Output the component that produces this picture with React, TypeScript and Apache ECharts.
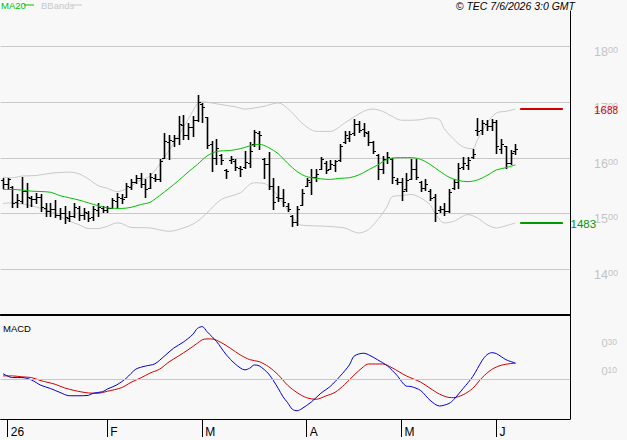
import React, { useEffect, useRef } from "react";
import * as echarts from "echarts";

// ---- calendar ----
const firstDay = "2025-12-31";
const lastDay = "2026-06-05";
const holidays = ["2026-01-01", "2026-04-03", "2026-04-06", "2026-05-01"];
const monthTickLabels = ["26", "F", "M", "A", "M", "J"];
const emptySlots = 11;

// ---- daily OHLC ----
const opens = [
  1560, 1552, 1548, 1520, 1522, 1540, 1528, 1526, 1530, 1510,
  1505, 1508, 1497, 1500, 1492, 1496, 1510, 1498, 1500, 1494,
  1506, 1510, 1506, 1510, 1522, 1528, 1530, 1548, 1556, 1564,
  1552, 1546, 1564, 1562, 1600, 1628, 1630, 1636, 1658, 1640,
  1655, 1668, 1696, 1672, 1624, 1600, 1604, 1578, 1596, 1594,
  1582, 1584, 1590, 1625, 1644, 1598, 1588, 1550, 1530, 1528,
  1514, 1496, 1484, 1516, 1550, 1556, 1566, 1580, 1590, 1580,
  1586, 1596, 1628, 1636, 1644, 1660, 1652, 1644, 1628, 1604,
  1580, 1598, 1598, 1560, 1556, 1544, 1562, 1580, 1556, 1546,
  1540, 1530, 1506, 1508, 1504, 1546, 1556, 1584, 1586, 1602,
  1650, 1650, 1660, 1656, 1664, 1616, 1620, 1590, 1612,
];
const highs = [
  1563, 1563, 1549, 1534, 1566, 1554, 1532, 1536, 1534, 1518,
  1518, 1525, 1510, 1513, 1504, 1519, 1514, 1510, 1504, 1513,
  1519, 1514, 1514, 1528, 1537, 1534, 1554, 1562, 1569, 1572,
  1561, 1572, 1571, 1597, 1644, 1641, 1641, 1674, 1677, 1662,
  1674, 1713, 1697, 1673, 1630, 1634, 1606, 1580, 1603, 1598,
  1585, 1612, 1628, 1650, 1647, 1600, 1610, 1564, 1549, 1543,
  1518, 1498, 1514, 1543, 1564, 1579, 1579, 1601, 1594, 1596,
  1596, 1624, 1647, 1647, 1670, 1665, 1662, 1647, 1630, 1606,
  1603, 1610, 1600, 1564, 1564, 1573, 1597, 1598, 1558, 1561,
  1543, 1534, 1514, 1519, 1543, 1561, 1590, 1601, 1601, 1615,
  1671, 1668, 1667, 1670, 1668, 1634, 1621, 1613, 1625,
];
const lows = [
  1546, 1543, 1512, 1511, 1519, 1511, 1514, 1519, 1504, 1495,
  1496, 1494, 1490, 1483, 1486, 1494, 1489, 1490, 1486, 1489,
  1496, 1502, 1502, 1509, 1510, 1518, 1530, 1544, 1554, 1548,
  1530, 1546, 1558, 1558, 1600, 1598, 1621, 1624, 1633, 1633,
  1639, 1665, 1664, 1618, 1576, 1588, 1588, 1564, 1591, 1578,
  1568, 1582, 1584, 1621, 1615, 1564, 1544, 1508, 1522, 1514,
  1504, 1477, 1480, 1516, 1549, 1534, 1558, 1579, 1573, 1579,
  1576, 1594, 1627, 1630, 1641, 1646, 1639, 1622, 1609, 1561,
  1573, 1591, 1555, 1552, 1525, 1540, 1561, 1561, 1540, 1542,
  1524, 1486, 1502, 1498, 1502, 1543, 1546, 1579, 1579, 1600,
  1641, 1643, 1650, 1650, 1609, 1608, 1582, 1588, 1606,
];
const closes = [
  1552, 1561, 1518, 1524, 1540, 1530, 1526, 1530, 1512, 1505,
  1508, 1498, 1500, 1494, 1496, 1512, 1498, 1502, 1492, 1508,
  1512, 1506, 1510, 1524, 1530, 1526, 1550, 1556, 1564, 1552,
  1544, 1566, 1562, 1594, 1630, 1632, 1636, 1660, 1640, 1655,
  1668, 1700, 1690, 1622, 1600, 1618, 1596, 1576, 1598, 1584,
  1580, 1592, 1612, 1646, 1640, 1588, 1550, 1520, 1528, 1520,
  1508, 1484, 1508, 1536, 1560, 1566, 1570, 1598, 1578, 1588,
  1594, 1620, 1640, 1642, 1660, 1650, 1646, 1628, 1612, 1580,
  1598, 1602, 1566, 1556, 1540, 1560, 1580, 1566, 1546, 1552,
  1528, 1500, 1508, 1504, 1538, 1556, 1582, 1590, 1596, 1606,
  1648, 1662, 1656, 1664, 1620, 1624, 1590, 1608, 1616,
];

// ---- indicators: [barIndex, value] ----
const ma20 = [
  [0, 1543], [2, 1543], [4, 1542], [6, 1540], [10, 1538], [12, 1532], [14, 1528], [16, 1524],
  [18, 1519], [20, 1514], [22, 1510], [25, 1509], [27, 1511], [29, 1516], [31, 1520], [33, 1532],
  [35, 1545], [37, 1559], [39, 1574], [41, 1588], [43, 1603], [45, 1611], [48, 1613], [50, 1616],
  [52, 1621], [54, 1624], [55, 1622], [56, 1618], [58, 1607], [60, 1590], [62, 1575], [64, 1566],
  [67, 1562], [69, 1561], [71, 1563], [73, 1564], [75, 1569], [77, 1578], [79, 1587], [81, 1597],
  [83, 1600], [86, 1600], [88, 1597], [90, 1588], [92, 1576], [94, 1565], [96, 1559], [98, 1557],
  [100, 1560], [102, 1568], [104, 1578], [106, 1582], [108, 1587],
];
const bbUpper = [
  [0, 1565], [2, 1564], [4, 1567], [7, 1568], [10, 1572], [14, 1574], [16, 1571], [18, 1562],
  [20, 1550], [22, 1545], [24, 1539], [26, 1544], [27, 1549], [29, 1560], [31, 1567], [34, 1600],
  [37, 1640], [39, 1668], [41, 1697], [42, 1700], [44, 1698], [46, 1695], [49, 1691], [51, 1687],
  [53, 1689], [55, 1692], [58, 1698], [61, 1680], [63, 1662], [66, 1647], [69, 1647], [72, 1662],
  [76, 1683], [78, 1687], [80, 1683], [82, 1674], [84, 1667], [86, 1667], [88, 1668], [90, 1671],
  [92, 1668], [93, 1652], [95, 1633], [97, 1619], [99, 1616], [100, 1632], [102, 1662], [104, 1680],
  [106, 1683], [108, 1687],
];
const bbLower = [
  [0, 1518], [2, 1519], [4, 1517], [6, 1514], [8, 1509], [10, 1504], [12, 1495], [14, 1486],
  [16, 1480], [18, 1473], [20, 1473], [22, 1477], [24, 1483], [25, 1482], [27, 1475], [31, 1474],
  [35, 1468], [39, 1477], [41, 1486], [43, 1501], [46, 1525], [50, 1537], [52, 1552], [53, 1555],
  [55, 1554], [56, 1549], [58, 1531], [60, 1505], [62, 1483], [63, 1479], [68, 1477], [72, 1474],
  [74, 1467], [75, 1465], [77, 1471], [79, 1489], [81, 1513], [82, 1530], [84, 1532], [86, 1534],
  [88, 1528], [90, 1516], [91, 1501], [93, 1483], [95, 1486], [98, 1498], [100, 1492], [102, 1480],
  [104, 1474], [106, 1478], [108, 1483],
];
const macdLine = [
  [0, 4.0], [2, 1.2], [4, 1.2], [6, -0.5], [8, -4.3], [10, -6.6], [12, -9.4], [14, -11.8],
  [16, -11.8], [18, -11.5], [19, -10.0], [21, -8.9], [22, -7.0], [24, -4.0], [26, 0.8], [28, 7.2],
  [30, 9.4], [32, 11.0], [34, 16.5], [36, 22.3], [38, 26.5], [40, 32.0], [41, 36.4], [42, 37.6],
  [43, 34.0], [45, 27.0], [47, 17.8], [49, 10.8], [51, 6.7], [52, 7.9], [53, 10.2], [54, 9.6],
  [56, 3.8], [58, -6.5], [59, -12.4], [60, -16.8], [61, -21.5], [62, -22.5], [63, -21.0], [65, -16.2],
  [67, -10.0], [69, -5.0], [71, 2.0], [73, 10.2], [74, 16.5], [76, 18.6], [77, 17.6], [79, 13.8],
  [81, 9.6], [83, 2.9], [85, -4.9], [86, -5.2], [88, -8.0], [90, -15.0], [92, -19.1], [94, -17.3],
  [95, -14.5], [97, -6.5], [99, 1.9], [101, 13.5], [102, 17.5], [103, 19.0], [104, 18.3], [106, 14.0],
  [108, 11.6],
];
const macdSignal = [
  [0, 2.4], [2, 2.4], [4, 1.7], [6, 1.2], [8, -1.0], [11, -3.6], [13, -6.2], [15, -8.0],
  [18, -9.8], [20, -10.0], [22, -8.6], [25, -6.0], [27, -2.2], [29, 0.9], [31, 4.4], [33, 7.2],
  [35, 12.4], [37, 16.6], [39, 21.0], [41, 25.8], [42, 28.2], [43, 28.8], [44, 28.8], [46, 26.2],
  [48, 22.0], [50, 17.4], [52, 14.0], [54, 12.6], [56, 8.9], [58, 3.2], [60, -4.3], [62, -9.6],
  [64, -13.2], [66, -14.3], [68, -12.0], [70, -9.3], [72, -3.8], [74, 3.0], [76, 9.0], [77, 10.9],
  [80, 10.9], [82, 8.2], [85, 2.4], [88, -2.0], [90, -6.4], [92, -10.6], [94, -13.0], [95, -13.1],
  [97, -11.0], [99, -6.5], [101, 1.2], [103, 7.0], [105, 10.0], [107, 11.2], [108, 11.4],
];

// ---- axes and levels ----
const priceTicks = [1400, 1500, 1600, 1700, 1800];
const macdTicks = [10, 30];
const priceMin = 1318.1;
const priceMax = 1862.7;
const macdMin = -28.4;
const macdMax = 45.9;
const levels = [1688, 1483];
const levelFrom = 109;
const levelTo = 118;

const FONT = "'Liberation Sans', Arial, sans-serif";
const GRID_LINE = "#c8c8c8";
const LABEL_GREY = "#c4c4c4";
const levelColors = ["#cc0000", "#009900"];

function tradingDays(): string[] {
  const out: string[] = [];
  const d = new Date(firstDay + "T00:00:00Z");
  const end = new Date(lastDay + "T00:00:00Z").getTime();
  while (d.getTime() <= end) {
    const wd = d.getUTCDay();
    const s = d.toISOString().slice(0, 10);
    if (wd !== 0 && wd !== 6 && !holidays.includes(s)) out.push(s);
    d.setUTCDate(d.getUTCDate() + 1);
  }
  return out;
}

function splitLabel(v: number) {
  const big = Math.floor(v / 100);
  const small = String(v % 100).padStart(2, "0");
  return `{a|${big}}{b|${small}}`;
}

export default function App() {
  const ref = useRef<HTMLDivElement>(null);

  useEffect(() => {
    if (!ref.current) return;
    const chart = echarts.init(ref.current, null, { renderer: "svg" });
    const days = tradingDays();
    const categories = days.concat(Array.from({ length: emptySlots }, (_, k) => `pad${k}`));
    const monthStart: Record<number, string> = {};
    let m = 0;
    for (let i = 1; i < days.length; i++) {
      if (days[i].slice(5, 7) !== days[i - 1].slice(5, 7)) monthStart[i] = monthTickLabels[m++];
    }
    const ohlc = opens.map((o, i) => [i, o, highs[i], lows[i], closes[i]]);

    const gridL = 0.6;
    const gridW = 569.4;

    const option: any = {
      animation: false,
      backgroundColor: "#f8f8f8",
      grid: [
        { left: gridL, top: 11, width: gridW, height: 304 },
        { left: gridL, top: 315, width: gridW, height: 104 },
      ],
      xAxis: [
        {
          type: "category", gridIndex: 0, data: categories, boundaryGap: true,
          axisLine: { show: true, onZero: false, lineStyle: { color: "#000", width: 2 } },
          axisTick: { show: false }, axisLabel: { show: false }, splitLine: { show: false },
        },
        {
          type: "category", gridIndex: 1, data: categories, boundaryGap: true,
          axisLine: { show: true, onZero: false, lineStyle: { color: "#000", width: 1 } },
          axisTick: {
            show: true, alignWithLabel: true, length: 18,
            interval: (i: number) => monthStart[i] !== undefined,
            lineStyle: { color: "#000", width: 1 },
          },
          axisLabel: {
            show: true,
            interval: (i: number) => monthStart[i] !== undefined,
            formatter: (_v: string, i: number) => monthStart[i] ?? "",
            align: "left", padding: [0, 0, 0, 3], margin: 7,
            color: "#000", fontSize: 12, fontFamily: FONT,
          },
          splitLine: { show: false },
        },
      ],
      yAxis: [
        {
          type: "value", gridIndex: 0, position: "right", min: priceMin, max: priceMax,
          axisLine: { show: true, lineStyle: { color: "#000", width: 1 } },
          axisTick: { show: false }, axisLabel: { show: false }, splitLine: { show: false },
        },
        {
          type: "value", gridIndex: 1, position: "right", min: macdMin, max: macdMax,
          axisLine: { show: true, lineStyle: { color: "#000", width: 1 } },
          axisTick: { show: false }, axisLabel: { show: false }, splitLine: { show: false },
        },
      ],
      graphic: [
        { type: "text", left: 1, top: 0.5, style: { text: "MA20", fill: "#00c000", font: `9.5px ${FONT}` } },
        { type: "line", shape: { x1: 24, y1: 5, x2: 34, y2: 5 }, style: { stroke: "#00c000", lineWidth: 1 } },
        { type: "text", left: 41, top: 0.5, style: { text: "BBands", fill: "#c8c8c8", font: `9.5px ${FONT}` } },
        { type: "line", shape: { x1: 72, y1: 5, x2: 82, y2: 5 }, style: { stroke: "#c8c8c8", lineWidth: 1 } },
        { type: "text", right: 52, top: 0, style: { text: "\u00a9 TEC 7/6/2026 3:0 GMT", fill: "#000", font: `italic 10.5px ${FONT}` } },
        { type: "text", left: 3, top: 323, style: { text: "MACD", fill: "#000", font: `9.5px ${FONT}` } },
      ],
      series: [
        {
          type: "custom", name: "priceGrid", xAxisIndex: 0, yAxisIndex: 0, z: 1, clip: false, silent: true,
          data: priceTicks.map((v) => [0, v]),
          encode: { x: 0, y: 1 },
          renderItem: (params: any, api: any) => {
            const cs = params.coordSys;
            const v = api.value(1);
            const y = Math.round(api.coord([0, v])[1]) + 0.5;
            return {
              type: "group",
              children: [
                { type: "line", shape: { x1: cs.x, y1: y, x2: cs.x + cs.width, y2: y }, style: { stroke: GRID_LINE, lineWidth: 1 } },
                {
                  type: "text", x: cs.x + cs.width + 48, y: y - 1,
                  style: {
                    text: splitLabel(v), align: "right", verticalAlign: "top", fill: LABEL_GREY,
                    rich: {
                      a: { fontSize: 12.5, fontFamily: FONT, fill: LABEL_GREY, lineHeight: 13 },
                      b: { fontSize: 9, fontFamily: FONT, fill: LABEL_GREY, lineHeight: 13, verticalAlign: "top" },
                    },
                  },
                },
              ],
            };
          },
        },
        {
          type: "custom", name: "macdLabels", xAxisIndex: 1, yAxisIndex: 1, z: 1, clip: false, silent: true,
          data: macdTicks.map((v) => [0, v]),
          encode: { x: 0, y: 1 },
          renderItem: (params: any, api: any) => {
            const cs = params.coordSys;
            const v = api.value(1);
            const y = Math.round(api.coord([0, v])[1]);
            return {
              type: "text", x: cs.x + cs.width + 47, y: y,
              style: {
                text: splitLabel(v), align: "right", verticalAlign: "top", fill: LABEL_GREY,
                rich: {
                  a: { fontSize: 11, fontFamily: FONT, fill: LABEL_GREY, lineHeight: 12 },
                  b: { fontSize: 8.5, fontFamily: FONT, fill: LABEL_GREY, lineHeight: 12, verticalAlign: "top" },
                },
              },
            };
          },
        },
        {
          type: "line", name: "BBands", xAxisIndex: 0, yAxisIndex: 0, data: bbUpper, showSymbol: false,
          smooth: 0.3, z: 2, silent: true, lineStyle: { color: "#c8c8c8", width: 1 },
        },
        {
          type: "line", name: "BBands", xAxisIndex: 0, yAxisIndex: 0, data: bbLower, showSymbol: false,
          smooth: 0.3, z: 2, silent: true, lineStyle: { color: "#c8c8c8", width: 1 },
        },
        {
          type: "custom", name: "OHLC", xAxisIndex: 0, yAxisIndex: 0, z: 3, silent: true,
          data: ohlc,
          encode: { x: 0, y: [1, 2, 3, 4] },
          renderItem: (_params: any, api: any) => {
            const i = api.value(0);
            const pH = api.coord([i, api.value(2)]);
            const pL = api.coord([i, api.value(3)]);
            const pO = api.coord([i, api.value(1)]);
            const pC = api.coord([i, api.value(4)]);
            const x = Math.round(pH[0]) + 0.5;
            const yo = Math.round(pO[1]) + 0.5;
            const yc = Math.round(pC[1]) + 0.5;
            return {
              type: "group",
              children: [
                { type: "line", shape: { x1: x, y1: Math.round(pH[1]), x2: x, y2: Math.round(pL[1]) + 1 }, style: { stroke: "#000", lineWidth: 1.6 } },
                { type: "line", shape: { x1: x - 2.5, y1: yo, x2: x, y2: yo }, style: { stroke: "#000", lineWidth: 1 } },
                { type: "line", shape: { x1: x, y1: yc, x2: x + 2.5, y2: yc }, style: { stroke: "#000", lineWidth: 1 } },
              ],
            };
          },
        },
        {
          type: "line", name: "MA20", xAxisIndex: 0, yAxisIndex: 0, data: ma20, showSymbol: false,
          smooth: 0.3, z: 4, silent: true, lineStyle: { color: "#00c000", width: 1 },
        },
        {
          type: "custom", name: "levels", xAxisIndex: 0, yAxisIndex: 0, z: 5, clip: false, silent: true,
          data: levels.map((v) => [levelFrom, v]),
          encode: { x: 0, y: 1 },
          renderItem: (params: any, api: any) => {
            const cs = params.coordSys;
            const v = api.value(1);
            const p1 = api.coord([levelFrom, v]);
            const p2 = api.coord([levelTo, v]);
            const y = Math.round(p1[1]);
            const color = levelColors[params.dataIndex];
            const isTop = params.dataIndex === 0;
            return {
              type: "group",
              children: [
                { type: "line", shape: { x1: p1[0], y1: y, x2: p2[0], y2: y }, style: { stroke: color, lineWidth: 2 } },
                isTop
                  ? {
                      type: "text", x: cs.x + cs.width + 48, y: y + 1,
                      style: {
                        text: splitLabel(v), align: "right", verticalAlign: "middle", fill: color,
                        rich: {
                          a: { fontSize: 11.5, fontFamily: FONT, fill: color, lineHeight: 12 },
                          b: { fontSize: 10, fontFamily: FONT, fill: color, lineHeight: 12 },
                        },
                      },
                    }
                  : {
                      type: "text", x: cs.x + cs.width + 0.5, y: y + 1,
                      style: { text: String(v), align: "left", verticalAlign: "middle", fill: color, font: `11.5px ${FONT}` },
                    },
              ],
            };
          },
        },
        {
          type: "line", name: "MACD", xAxisIndex: 1, yAxisIndex: 1, data: macdLine, showSymbol: false,
          smooth: 0.3, z: 4, silent: true, lineStyle: { color: "#0000cc", width: 1 },
          markLine: {
            silent: true, symbol: "none", label: { show: false },
            lineStyle: { color: GRID_LINE, width: 1, type: "solid" },
            data: [{ yAxis: 0 }],
          },
        },
        {
          type: "line", name: "Signal", xAxisIndex: 1, yAxisIndex: 1, data: macdSignal, showSymbol: false,
          smooth: 0.3, z: 3, silent: true, lineStyle: { color: "#cc0000", width: 1 },
        },
      ],
    };
    chart.setOption(option);
    return () => chart.dispose();
  }, []);

  return <div ref={ref} style={{ position: "absolute", left: 0, top: 0, width: 627, height: 440 }} />;
}
